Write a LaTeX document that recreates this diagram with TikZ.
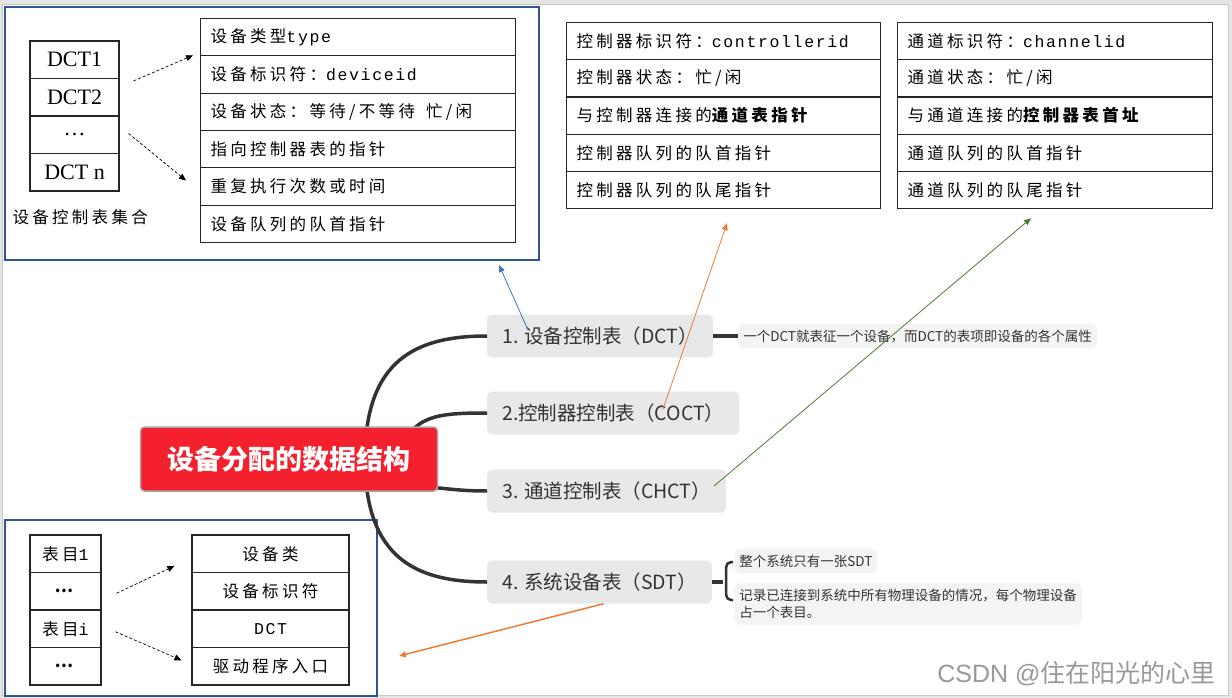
\documentclass[tikz,border=0pt]{standalone}
\usepackage{fontspec}
\usepackage{xcolor}
\setmainfont{Noto Sans CJK SC}
\newfontfamily\tabfont{Noto Sans CJK SC}[LetterSpace=20]
\newfontfamily\idfont{Liberation Mono}[LetterSpace=10]
\newfontfamily\tnrfont{Liberation Serif}
\newfontfamily\wmfont{Liberation Sans}
\usetikzlibrary{arrows.meta, positioning}

\definecolor{frameblue}{HTML}{2F5597}
\definecolor{nodegray}{HTML}{E8E8E8}
\definecolor{notegray}{HTML}{F4F4F4}
\definecolor{mapred}{HTML}{F5202E}
\definecolor{linedark}{HTML}{333333}
\definecolor{ptrblue}{HTML}{4472C4}
\definecolor{ptrorange}{HTML}{ED7D31}
\definecolor{ptrgreen}{HTML}{4E7A35}

\begin{document}
\begin{tikzpicture}[x=1pt, y=-1pt,
    rowcell/.style={draw=black!85, line width=1.1pt, anchor=north west,
        minimum height=37.3pt, inner xsep=10pt, inner ysep=0pt,
        text width=#1, align=left, font=\tabfont\fontsize{16.5}{18}\selectfont},
    midcell/.style={draw=black!85, line width=1.1pt, minimum width=#1,
        minimum height=37.5pt, inner sep=0pt, font=\tabfont\fontsize{16.5}{18}\selectfont},
    frame/.style={draw=frameblue, line width=2pt, anchor=north west, inner sep=0pt},
    branch/.style={draw=linedark, line width=3.5pt},
    topic/.style={fill=nodegray, rounded corners=5pt, minimum height=43pt,
        inner xsep=15pt, text=linedark, font=\fontsize{19.5}{21}\selectfont},
    note/.style={fill=notegray, rounded corners=5pt, inner xsep=5pt, inner ysep=6pt,
        text=linedark, align=left, font=\fontsize{13.5}{17}\selectfont},
    ptr/.style={line width=0.8pt, -{Triangle[length=7pt,width=6pt]}},
    dots/.style={densely dashed, line width=0.7pt, -{Triangle[length=7pt,width=6pt]}}
]
% page
\fill[black!10] (0,0) rectangle (1232,698);
\filldraw[fill=white, draw=black!22] (2,4) rectangle (1228,695);
\useasboundingbox (0,0) rectangle (1232,698);

% DCT set
\node[frame, minimum width=534pt, minimum height=253pt] (fa) at (4,6) {};
\foreach \t [count=\i] in {DCT1, DCT2, \ldots, DCT n}
    \node[midcell=89pt, font=\tnrfont\fontsize{22}{24}\selectfont] (k\i) at (74.5,{41+37.5*(\i-0.5)}) {\t};
\node[anchor=west, font=\tabfont\fontsize{16.5}{18}\selectfont] (klab) at (9,217) {设备控制表集合};
\foreach \t [count=\i] in {设备类型{\idfont type}, 设备标识符：{\idfont deviceid},
        设备状态：等待/不等待\ \ 忙/闲, 指向控制器表的指针, 重复执行次数或时间, 设备队列的队首指针}
    \node[rowcell=295pt] (d\i) at (200,{18+37.33*(\i-1)}) {\t};
\draw[dots] ([shift={(14,3)}]k2.north east) -- ([xshift=-7pt]d2.north west);
\draw[dots] ([shift={(9,18)}]k3.north east) -- ([shift={(-14,-6)}]d5.west);

% controller table
\foreach \t [count=\i] in {控制器标识符：{\idfont controllerid}, 控制器状态：忙/闲,
        与控制器连接的{\bfseries 通道表指针}, 控制器队列的队首指针, 控制器队列的队尾指针}
    \node[rowcell=294pt] (c\i) at (566,{22+37.2*(\i-1)}) {\t};

% channel table
\foreach \t [count=\i] in {通道标识符：{\idfont channelid}, 通道状态：忙/闲,
        与通道连接的{\bfseries 控制器表首址}, 通道队列的队首指针, 通道队列的队尾指针}
    \node[rowcell=295pt] (h\i) at (897,{22+37.2*(\i-1)}) {\t};

% system device table
\node[frame, minimum width=372pt, minimum height=176pt] (fb) at (4,519) {};
\foreach \t [count=\i] in {表目{\idfont 1}, \textbf{\ldots}, 表目{\idfont i}, \textbf{\ldots}}
    \node[midcell=71pt] (t\i) at (65.5,{535+37.5*(\i-0.5)}) {\t};
\foreach \t [count=\i] in {设备类, 设备标识符, {\idfont DCT}, 驱动程序入口}
    \node[midcell=157pt] (e\i) at (270.5,{535+37.5*(\i-0.5)}) {\t};
\draw[dots] ([shift={(15,2)}]t2.east) -- ([shift={(-17,-6)}]e2.north west);
\draw[dots] ([shift={(14,3)}]t3.east) -- ([shift={(-10,-6)}]e4.west);

% mind map
\coordinate (rc) at (289,459);
\node[topic, anchor=west] (b1) at (487,336) {1. 设备控制表（DCT）};
\node[topic, anchor=west] (b2) at (487,413) {2.控制器控制表（COCT）};
\node[topic, anchor=west] (b3) at (487,491) {3. 通道控制表（CHCT）};
\node[topic, anchor=west] (b4) at (487,582) {4. 系统设备表（SDT）};
\draw[branch] ([xshift=76pt]rc) .. controls +(0,-100) and +(-70,0) .. (b1.west);
\draw[branch] ([shift={(116,-19)}]rc) .. controls +(15,-25) and +(-45,0) .. (b2.west);
\draw[branch] ([shift={(131,27)}]rc) .. controls +(30,3) and +(-25,0) .. (b3.west);
\draw[branch] ([xshift=76pt]rc) .. controls +(0,100) and +(-70,0) .. (b4.west);
\node[fill=mapred, draw=black!35, line width=1.5pt, rounded corners=4pt,
    minimum width=297pt, minimum height=64pt, text=white,
    font=\bfseries\fontsize{27}{29}\selectfont] (root) at (rc) {设备分配的数据结构};

% notes
\node[note, right=25pt of b1] (n1) {一个DCT就表征一个设备，而DCT的表项即设备的各个属性};
\draw[branch] (b1.east) -- (n1.west);
\coordinate[right=11pt of b4] (br);
\draw[branch] (b4.east) -- (br);
\draw[draw=linedark, line width=2.5pt, rounded corners=5pt]
    ([shift={(10,-20)}]br) -- ([shift={(3,-20)}]br) -- ([shift={(3,18)}]br) -- ([shift={(10,18)}]br);
\node[note, anchor=west] (n4a) at ([shift={(11,-21)}]br) {整个系统只有一张SDT};
\node[note, anchor=west] (n4b) at ([shift={(11,22)}]br) {记录已连接到系统中所有物理设备的情况，每个物理设备\\占一个表目。};

% pointers
\draw[ptr, ptrblue] ([shift={(41,-6)}]b1.west) -- ([shift={(-41,4)}]fa.south east);
\draw[ptr, ptrorange] ([shift={(176,-4)}]b2.west) -- ([shift={(161,14)}]c5.south west);
\draw[ptr, ptrgreen] ([shift={(227,-5)}]b3.west) -- ([shift={(134,9)}]h5.south west);
\draw[ptr, ptrorange, line width=1.5pt] ([xshift=4pt]b4.south) -- ([shift={(21,-41)}]fb.south east);

% watermark
\node[anchor=east, text=black!40, font=\fontsize{25}{27}\selectfont] (wm) at (1219,674) {{\wmfont CSDN @}住在阳光的心里};
\end{tikzpicture}
\end{document}
